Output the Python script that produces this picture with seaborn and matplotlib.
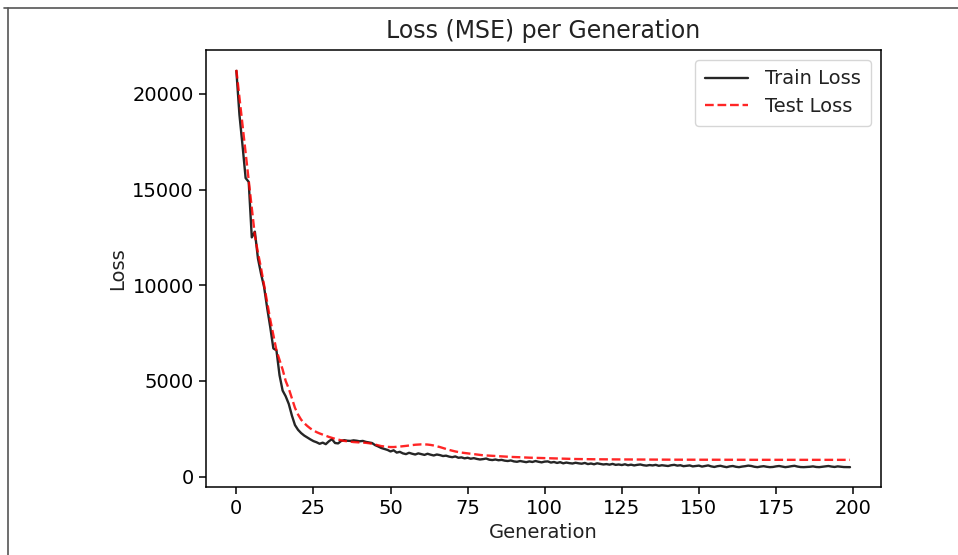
import numpy as np
import pandas as pd
import matplotlib
matplotlib.use("Agg")
import matplotlib.pyplot as plt
from matplotlib.lines import Line2D
import seaborn as sns

# loss values, one per generation (0..199)
train_loss = [
    21200, 18900, 17300, 15600, 15400, 12500, 12800, 11400, 10600, 9900,
    8800, 7800, 6700, 6600, 5300, 4500, 4200, 3800, 3200, 2700,
    2450, 2280, 2150, 2050, 1950, 1860, 1800, 1720, 1780, 1700,
    1850, 1960, 1760, 1740, 1870, 1910, 1880, 1870, 1900, 1880,
    1850, 1870, 1820, 1790, 1760, 1650, 1580, 1500, 1450, 1400,
    1320, 1380, 1260, 1300, 1220, 1180, 1250, 1200, 1160, 1220,
    1180, 1140, 1200, 1150, 1110, 1160, 1130, 1080, 1100, 1050,
    1020, 1060, 990, 1010, 960, 990, 940, 970, 930, 900,
    920, 950, 890, 870, 900, 860, 880, 840, 820, 850,
    800, 780, 820, 790, 760, 800, 770, 820, 780, 750,
    790, 800, 740, 770, 720, 760, 700, 740, 710, 690,
    730, 700, 680, 720, 660, 690, 650, 700, 670, 640,
    660, 630, 670, 620, 640, 610, 650, 600, 630, 590,
    620, 640, 600, 580, 610, 590, 620, 570, 600, 580,
    560, 600, 620, 580, 600, 550, 570, 590, 540, 560,
    580, 530, 560, 590, 540, 510, 550, 570, 530, 500,
    540, 560, 520, 500, 530, 550, 580, 560, 520, 500,
    530, 550, 520, 500, 510, 540, 560, 530, 500, 520,
    550, 570, 530, 505, 500, 510, 520, 540, 510, 500,
    520, 540, 560, 530, 510, 540, 520, 505, 500, 500,
]
test_loss = [
    21250, 19800, 18300, 16900, 15500, 14000, 12600, 11700, 10900, 10000,
    9100, 8200, 7400, 6600, 6100, 5600, 5000, 4600, 4100, 3600,
    3250, 2980, 2800, 2650, 2520, 2420, 2330, 2260, 2200, 2140,
    2080, 2030, 1980, 1940, 1900, 1870, 1850, 1830, 1810, 1800,
    1790, 1780, 1770, 1750, 1720, 1680, 1640, 1600, 1580, 1560,
    1550, 1550, 1560, 1575, 1590, 1610, 1630, 1650, 1670, 1680,
    1690, 1690, 1680, 1660, 1630, 1590, 1550, 1500, 1450, 1400,
    1360, 1320, 1290, 1260, 1240, 1220, 1200, 1180, 1160, 1140,
    1120, 1110, 1100, 1090, 1080, 1070, 1060, 1050, 1040, 1035,
    1030, 1025, 1020, 1010, 1000, 995, 990, 985, 980, 975,
    970, 965, 960, 955, 950, 945, 940, 935, 932, 928,
    925, 922, 920, 918, 916, 914, 912, 910, 909, 908,
    907, 906, 905, 904, 903, 902, 901, 900, 899, 898,
    897, 896, 895, 895, 894, 894, 893, 893, 892, 892,
    891, 891, 890, 890, 890, 889, 889, 889, 888, 888,
    888, 887, 887, 887, 887, 886, 886, 886, 886, 886,
    885, 885, 885, 885, 884, 884, 884, 884, 884, 884,
    883, 883, 883, 883, 883, 883, 883, 883, 883, 883,
    883, 883, 882, 882, 882, 882, 882, 882, 882, 882,
    881, 881, 881, 881, 881, 881, 881, 881, 881, 881,
]
generations = list(range(len(train_loss)))

df = pd.DataFrame({"Generation": generations, "train": train_loss, "test": test_loss})

sns.set_style("ticks", {"axes.edgecolor": "black", "xtick.color": "black",
                        "ytick.color": "black", "text.color": "#222222",
                        "axes.labelcolor": "#222222"})
plt.rcParams["font.family"] = ["DejaVu Sans"]

fig = plt.figure(figsize=(9.58, 5.55), dpi=100)
ax = fig.add_axes([0.2147, 0.1225, 0.7046, 0.7874])

sns.lineplot(data=df, x="Generation", y="train", color="black", linewidth=1.7,
             alpha=0.85, label="Train Loss", ax=ax)
sns.lineplot(data=df, x="Generation", y="test", color="red", linewidth=1.7,
             alpha=0.85, linestyle="--", label="Test Loss", ax=ax)

ax.set_title("Loss (MSE) per Generation", fontsize=17, pad=9)
ax.set_xlabel("Generation", fontsize=14)
ax.set_ylabel("Loss", fontsize=14)
ax.tick_params(labelsize=14, length=5, width=1.1)
for s in ax.spines.values():
    s.set_linewidth(1.1)
ax.legend(loc="upper right", fontsize=14, handlelength=2.2,
          borderpad=0.5, labelspacing=0.45, handletextpad=0.9)

# screenshot frame
fig.add_artist(Line2D([0.004, 1.0], [0.985, 0.985], transform=fig.transFigure,
                      color="#555555", linewidth=1.2))
fig.add_artist(Line2D([0.0087, 0.0087], [0.0, 0.985], transform=fig.transFigure,
                      color="#555555", linewidth=1.2))

fig.savefig("out.png", dpi=100)
